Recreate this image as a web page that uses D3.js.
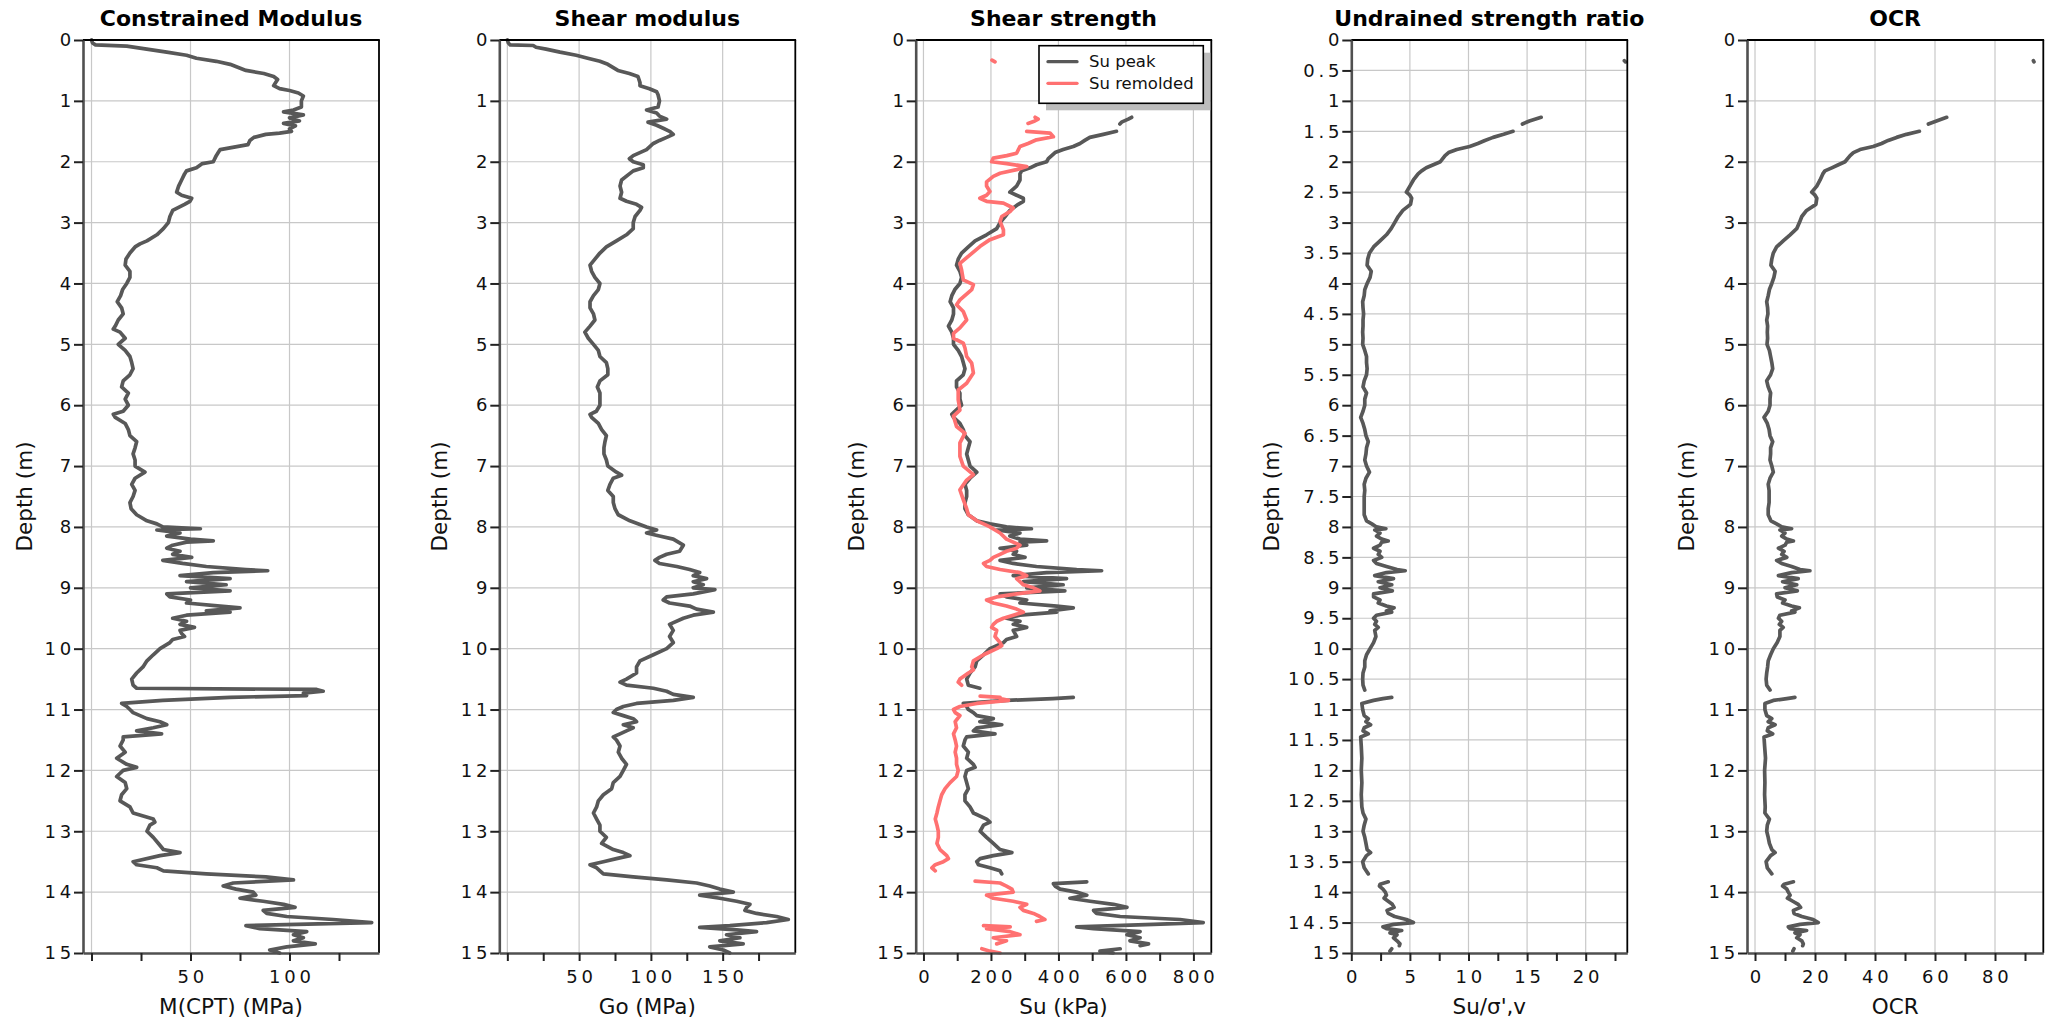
<!DOCTYPE html>
<html>
<head>
<meta charset="utf-8">
<script src="https://cdn.jsdelivr.net/npm/d3@7"></script>
<style>
  html, body { margin: 0; padding: 0; background: #ffffff; }
  svg { display: block; font-family: "DejaVu Sans", Verdana, sans-serif; }
  .title { font-weight: bold; font-size: 22px; fill: #000; }
  .alabel { font-size: 21.5px; fill: #111; }
  .tick text { font-size: 18px; letter-spacing: 3.8px; fill: #111; font-family: "DejaVu Sans", Verdana, sans-serif; }
  .legend text { font-size: 16.5px; fill: #111; }
</style>
</head>
<body>
<script>
// ---------------- DATA (depth [m], value) ; null = gap ----------------
const constrainedM = [[0,0],[0.05,0.5],[0.08,2],[0.1,17.8],[0.15,27.9],[0.2,38],[0.25,48],[0.3,53],[0.35,63],[0.4,70],[0.5,78],[0.55,87],[0.6,92],[0.65,94],[0.7,93],[0.75,92],[0.8,95],[0.83,100],[0.87,104.5],[0.92,107],[1.0,106],[1.1,106],[1.15,102],[1.18,97],[1.23,107],[1.28,100],[1.33,105],[1.37,97],[1.41,103],[1.46,100],[1.5,101],[1.53,95],[1.55,88],[1.6,82],[1.65,80],[1.72,79],[1.76,72],[1.8,65],[1.85,64],[1.9,63],[2.0,61.5],[2.03,56],[2.1,53],[2.15,48],[2.2,47],[2.3,45.5],[2.4,44],[2.5,43],[2.55,45.5],[2.6,50.6],[2.65,49.7],[2.7,47],[2.8,41],[2.9,39.6],[3.0,38.8],[3.1,36.3],[3.2,33],[3.3,28],[3.35,24.5],[3.4,22],[3.5,19.4],[3.6,17.4],[3.7,17],[3.8,19.4],[3.9,19.4],[4.0,17.8],[4.1,15.7],[4.2,14.7],[4.3,13],[4.4,15.2],[4.5,16],[4.6,13.5],[4.7,12],[4.75,11],[4.8,14.4],[4.9,17],[5.0,13.5],[5.1,17],[5.2,19.4],[5.3,20.3],[5.4,21],[5.5,19.4],[5.6,16],[5.7,15.2],[5.8,18.6],[5.9,17],[6.0,18.6],[6.1,16],[6.15,11],[6.2,12],[6.3,17],[6.4,18.6],[6.5,19.4],[6.6,22.8],[6.7,22],[6.8,21],[6.9,22],[7.0,22],[7.1,27],[7.2,22],[7.3,20.3],[7.4,22],[7.5,21],[7.6,19.4],[7.7,20],[7.8,22.8],[7.9,28],[7.95,33],[8.0,36],[8.03,55],[8.05,33],[8.1,44.7],[8.15,38],[8.2,50],[8.23,61.5],[8.25,48],[8.3,41],[8.35,38],[8.4,44.7],[8.45,41],[8.5,50.6],[8.55,36],[8.6,46],[8.65,58],[8.7,78],[8.72,89],[8.75,61.5],[8.8,44.7],[8.85,70],[8.9,48],[8.95,68],[9.0,50],[9.05,70],[9.1,38],[9.15,39.6],[9.2,50],[9.25,48],[9.3,65],[9.33,75],[9.38,58],[9.4,70],[9.45,48],[9.5,41],[9.55,48],[9.6,44.7],[9.65,52],[9.7,44.7],[9.75,45.5],[9.8,47],[9.85,41],[9.9,39.6],[10.0,34.6],[10.1,31.2],[10.2,28],[10.3,26],[10.4,22.8],[10.5,20.3],[10.6,21],[10.65,22.8],[10.67,113.7],[10.7,117],[10.73,107],[10.77,108.6],[10.8,70],[10.85,36],[10.9,15.2],[10.95,17.8],[11.0,19.4],[11.05,21],[11.1,24.5],[11.15,28],[11.2,34.6],[11.25,38],[11.3,31.2],[11.35,22.8],[11.4,35.4],[11.45,16],[11.5,16],[11.6,14.4],[11.7,17],[11.8,12.7],[11.9,17.8],[11.95,22.8],[12.0,16],[12.1,12.7],[12.2,17],[12.3,17.8],[12.4,15.2],[12.5,14.4],[12.6,19.4],[12.7,21],[12.8,31.2],[12.85,32],[12.9,29.5],[13.0,28],[13.1,31.2],[13.2,33.8],[13.3,36.3],[13.35,44.7],[13.4,34.6],[13.5,21],[13.55,22.8],[13.6,33],[13.65,36.3],[13.7,58],[13.75,88],[13.8,102],[13.85,71.6],[13.9,66.5],[13.95,73],[14.0,81.7],[14.05,83],[14.1,75],[14.15,86.7],[14.2,97],[14.25,102.8],[14.3,86.7],[14.35,88.5],[14.4,98.6],[14.45,122],[14.5,141.5],[14.55,78],[14.6,85],[14.65,108.7],[14.7,102],[14.75,107],[14.8,102],[14.85,113],[14.9,98.6],[14.95,90],[15.0,95]];

const shearGo = [[0,0],[0.05,0.7],[0.08,2],[0.09,18],[0.12,20],[0.15,27],[0.2,36.7],[0.25,48],[0.3,56],[0.35,64.5],[0.4,70],[0.5,77],[0.55,85],[0.6,91],[0.7,92.4],[0.75,92.4],[0.8,99],[0.85,104],[0.9,105],[1.0,106],[1.1,105],[1.15,97],[1.2,104],[1.25,106],[1.3,111],[1.35,98],[1.4,104],[1.45,108.6],[1.5,113],[1.55,115.6],[1.6,111],[1.65,106],[1.7,101.7],[1.8,97],[1.9,87.7],[1.95,85],[2.0,87.7],[2.05,94.7],[2.1,94.7],[2.15,87.7],[2.2,85],[2.3,79.6],[2.4,78.5],[2.5,79.6],[2.6,78.5],[2.65,83],[2.7,90],[2.75,93.5],[2.8,92.4],[2.9,89],[3.0,87.7],[3.1,87.7],[3.2,83],[3.3,76],[3.4,69],[3.5,64.5],[3.6,61],[3.7,57.6],[3.8,58.7],[3.9,61],[4.0,64.5],[4.1,63.4],[4.2,60],[4.3,57.6],[4.4,57.6],[4.5,60],[4.6,61],[4.7,57.6],[4.8,54],[4.9,56.4],[5.0,60],[5.1,63.4],[5.2,64.5],[5.3,69],[5.4,70],[5.5,70],[5.6,64.5],[5.7,62.7],[5.8,64.5],[5.9,64.5],[6.0,64.5],[6.1,62],[6.15,57.6],[6.2,58.7],[6.3,63.4],[6.4,65.7],[6.5,69],[6.6,68],[6.7,67.3],[6.8,67.3],[6.9,69],[7.0,70],[7.1,76],[7.15,79.6],[7.2,73.8],[7.3,71.5],[7.4,70],[7.5,73.8],[7.6,73.8],[7.7,75],[7.8,77.3],[7.9,85.4],[8.0,97],[8.05,104],[8.1,97],[8.15,106],[8.2,115.6],[8.3,122.6],[8.4,120],[8.45,111],[8.5,106],[8.55,102.8],[8.6,106],[8.65,118],[8.7,127],[8.75,134],[8.8,129.5],[8.85,138.8],[8.9,129.5],[8.95,136.5],[9.0,129.5],[9.03,144.6],[9.1,129.5],[9.15,111],[9.2,108.6],[9.25,113],[9.3,127],[9.35,131.8],[9.4,143.5],[9.45,129.5],[9.5,122.6],[9.6,113],[9.7,115.6],[9.8,113],[9.9,115.6],[10.0,111],[10.1,101.7],[10.2,92.4],[10.3,90],[10.4,90],[10.5,83],[10.55,78.5],[10.6,83],[10.65,101.7],[10.7,111],[10.75,115.6],[10.8,129.5],[10.85,115.6],[10.9,90],[10.95,80.8],[11.0,76],[11.05,73.8],[11.1,80.8],[11.15,87.7],[11.2,90],[11.25,80.8],[11.3,87.7],[11.35,83],[11.4,78.5],[11.45,73.8],[11.5,76],[11.6,78.5],[11.7,77.3],[11.8,79.6],[11.9,83],[12.0,80.8],[12.1,78.5],[12.2,73.8],[12.3,72.7],[12.4,66.9],[12.5,63.4],[12.6,62.2],[12.7,60],[12.8,62.2],[12.9,64.5],[13.0,64.5],[13.1,69],[13.2,65.7],[13.3,73.8],[13.35,80.8],[13.4,85.4],[13.45,76],[13.5,66.9],[13.55,57.6],[13.6,62.2],[13.65,64.5],[13.7,66.9],[13.75,87.7],[13.8,111],[13.85,131.8],[13.9,141],[13.95,148],[14.0,157.4],[14.05,134],[14.1,148],[14.15,159.7],[14.2,169],[14.25,166.7],[14.3,165.5],[14.35,173.6],[14.4,187.6],[14.45,195.7],[14.5,180.6],[14.55,155],[14.58,134],[14.62,159.7],[14.65,173.6],[14.7,152.7],[14.75,162],[14.8,148],[14.85,164.3],[14.9,141],[14.95,150.4],[15.0,155]];

const suPeak = [[1.27,617],[1.3,607],[1.35,587],[1.38,582],null,[1.5,572],[1.55,533],[1.6,493],[1.65,478],[1.7,464],[1.75,444],[1.8,414],[1.85,390],[1.9,380],[1.95,370],[2.0,365],[2.05,335],[2.1,316],[2.15,291],[2.2,286],[2.3,286],[2.4,276],[2.5,256],[2.55,276],[2.6,296],[2.65,296],[2.7,281],[2.8,256],[2.9,242],[3.0,227],[3.1,217],[3.2,187],[3.3,153],[3.4,133],[3.5,113],[3.6,103],[3.7,98],[3.8,108],[3.9,113],[4.0,108],[4.1,93],[4.2,84],[4.3,79],[4.4,89],[4.5,89],[4.6,84],[4.7,74],[4.8,84],[4.9,89],[5.0,89],[5.1,103],[5.2,113],[5.3,118],[5.4,123],[5.5,118],[5.6,98],[5.7,98],[5.8,108],[5.9,108],[6.0,113],[6.1,93],[6.15,84],[6.2,89],[6.3,108],[6.4,118],[6.5,123],[6.6,138],[6.7,133],[6.8,128],[6.9,133],[7.0,138],[7.1,158],[7.2,138],[7.3,123],[7.4,128],[7.5,128],[7.6,123],[7.7,123],[7.8,133],[7.9,158],[7.95,197],[8.0,246],[8.03,320],[8.05,217],[8.1,286],[8.15,256],[8.2,286],[8.23,365],[8.25,286],[8.3,306],[8.35,227],[8.4,276],[8.45,266],[8.5,301],[8.55,227],[8.6,266],[8.65,335],[8.7,454],[8.72,528],[8.75,365],[8.8,266],[8.85,424],[8.9,296],[8.95,414],[9.0,306],[9.05,419],[9.1,227],[9.15,246],[9.2,306],[9.25,286],[9.3,395],[9.33,444],[9.38,375],[9.4,395],[9.45,286],[9.5,246],[9.55,286],[9.6,266],[9.65,306],[9.7,266],[9.75,271],[9.8,276],[9.85,246],[9.9,237],[10.0,197],[10.1,178],[10.2,158],[10.3,153],[10.4,138],[10.5,128],[10.6,133],[10.65,167],null,[10.8,444],[10.82,384],[10.85,246],[10.9,118],[10.95,128],[11.0,133],[11.05,148],[11.1,158],[11.15,207],[11.2,167],[11.25,232],[11.3,158],[11.35,148],[11.4,212],[11.45,128],[11.5,123],[11.6,118],[11.7,133],[11.8,128],[11.9,148],[11.95,153],[12.0,128],[12.1,123],[12.2,128],[12.3,133],[12.4,123],[12.5,123],[12.6,138],[12.7,148],[12.8,187],[12.85,197],[12.9,178],[13.0,168],[13.1,187],[13.2,207],[13.3,227],[13.35,262],[13.4,207],[13.45,168],[13.5,158],[13.55,163],[13.6,197],[13.65,227],[13.7,232],null,[13.83,484],[13.86,385],[13.9,390],[13.95,405],[14.0,454],[14.05,484],[14.1,434],[14.15,494],[14.2,563],[14.25,603],[14.3,504],[14.35,513],[14.4,583],[14.45,760],[14.5,829],[14.53,681],[14.57,454],[14.6,504],[14.65,642],[14.7,603],[14.75,642],[14.8,612],[14.85,667],[14.88,642],null,[14.93,583],[14.97,523],[15.0,562]];

const suRemolded = [[0.33,203],[0.36,212],null,[1.27,331],[1.3,340],[1.33,330],[1.37,310],null,[1.5,306],[1.53,375],[1.59,385],[1.64,335],[1.7,310],[1.75,286],[1.86,276],[1.9,247],[1.94,207],[2.0,202],[2.03,247],[2.08,306],[2.13,276],[2.19,227],[2.24,207],[2.33,187],[2.4,187],[2.49,197],[2.55,187],[2.6,167],[2.65,187],[2.68,237],[2.76,266],[2.82,256],[2.9,232],[2.98,227],[3.12,237],[3.2,237],[3.28,197],[3.39,168],[3.53,138],[3.67,108],[3.78,113],[3.94,118],[4.02,148],[4.1,143],[4.27,108],[4.35,98],[4.46,118],[4.6,128],[4.73,108],[4.82,89],[4.9,89],[4.98,118],[5.06,123],[5.2,128],[5.31,143],[5.47,148],[5.64,128],[5.75,103],[5.91,103],[6.08,108],[6.18,89],[6.35,98],[6.46,123],[6.62,108],[6.84,108],[7.0,118],[7.14,148],[7.23,128],[7.39,108],[7.55,118],[7.7,128],[7.8,133],[7.9,158],[7.95,178],[8.0,197],[8.1,227],[8.2,246],[8.3,286],[8.35,276],[8.4,246],[8.45,227],[8.5,207],[8.55,197],[8.6,178],[8.65,187],[8.7,227],[8.75,286],[8.8,306],[8.85,276],[8.9,286],[8.95,296],[9.0,326],[9.05,345],[9.1,276],[9.15,217],[9.2,187],[9.25,207],[9.3,246],[9.35,276],[9.4,296],[9.45,266],[9.5,237],[9.55,217],[9.6,207],[9.65,202],[9.7,217],[9.8,212],[9.9,227],[9.95,232],[10.0,217],[10.05,197],[10.1,178],[10.2,148],[10.3,143],[10.35,148],[10.4,133],[10.5,108],[10.55,103],[10.6,113],null,[10.78,168],[10.8,227],[10.82,227],[10.85,252],[10.9,158],[10.95,108],[11.0,89],[11.05,94],[11.1,108],[11.2,94],[11.3,98],[11.4,89],[11.5,94],[11.6,98],[11.7,94],[11.8,98],[11.9,98],[12.0,103],[12.1,98],[12.2,79],[12.3,64],[12.4,54],[12.5,49],[12.6,44],[12.7,40],[12.8,35],[12.9,40],[13.0,44],[13.1,44],[13.2,40],[13.3,49],[13.4,69],[13.45,74],[13.5,59],[13.55,35],[13.6,25],[13.65,35],null,[13.82,153],[13.85,227],[13.9,246],[13.95,262],[14.0,266],[14.05,187],[14.1,207],[14.15,266],[14.2,306],[14.25,286],[14.3,296],[14.35,326],[14.4,345],[14.45,360],[14.48,335],null,[14.55,178],[14.57,257],[14.6,187],[14.65,257],[14.7,286],[14.75,207],[14.8,246],[14.85,217],null,[14.93,173],[14.97,197],[15.0,227]];

const suRatio = [[0.34,23.3],[0.36,23.4],null,[1.27,16.2],[1.33,15.2],[1.38,14.6],null,[1.5,13.8],[1.55,13.0],[1.6,12.1],[1.65,11.4],[1.7,10.8],[1.75,10.1],[1.8,9.0],[1.85,8.3],[1.9,8.0],[2.0,7.6],[2.05,7.0],[2.1,6.4],[2.15,6.0],[2.2,5.7],[2.3,5.3],[2.4,5.0],[2.5,4.7],[2.55,5.0],[2.6,5.15],[2.7,5.05],[2.8,4.4],[2.9,4.0],[3.0,3.7],[3.1,3.4],[3.2,3.0],[3.3,2.45],[3.4,1.9],[3.5,1.55],[3.6,1.4],[3.7,1.35],[3.8,1.7],[3.9,1.6],[4.0,1.35],[4.1,1.15],[4.2,1.1],[4.3,0.97],[4.4,1.0],[4.5,1.05],[4.6,1.0],[4.7,1.0],[4.8,0.97],[4.9,1.0],[5.0,0.97],[5.1,1.15],[5.2,1.3],[5.3,1.3],[5.4,1.35],[5.5,1.3],[5.6,1.1],[5.7,1.0],[5.8,1.3],[5.9,1.15],[6.0,1.15],[6.1,1.0],[6.2,0.8],[6.3,1.0],[6.4,1.15],[6.5,1.25],[6.6,1.45],[6.7,1.3],[6.8,1.25],[6.9,1.15],[7.0,1.3],[7.1,1.55],[7.2,1.25],[7.3,1.1],[7.4,1.15],[7.5,1.1],[7.6,1.1],[7.7,1.1],[7.8,1.1],[7.9,1.3],[7.95,1.75],[8.0,2.15],[8.03,2.95],[8.05,2.0],[8.1,2.45],[8.15,2.15],[8.2,2.6],[8.23,3.15],[8.25,2.6],[8.3,2.45],[8.35,1.9],[8.4,2.45],[8.45,2.3],[8.5,2.6],[8.55,1.9],[8.6,2.15],[8.65,3.0],[8.7,3.9],[8.72,4.6],[8.75,3.0],[8.8,2.0],[8.85,3.6],[8.9,2.3],[8.95,3.45],[9.0,2.45],[9.05,3.5],[9.1,1.9],[9.15,1.9],[9.2,2.45],[9.25,2.3],[9.3,3.0],[9.33,3.65],[9.38,3.0],[9.4,3.45],[9.45,2.15],[9.5,1.9],[9.55,2.15],[9.6,2.0],[9.65,2.3],[9.7,2.0],[9.8,2.1],[9.9,1.9],[10.0,1.6],[10.1,1.3],[10.2,1.15],[10.3,1.15],[10.4,1.0],[10.5,0.97],[10.6,1.0],[10.68,1.15],null,[10.8,3.45],[10.82,2.7],[10.85,1.9],[10.9,0.9],[11.0,0.97],[11.1,1.1],[11.15,1.45],[11.2,1.25],[11.25,1.65],[11.3,1.1],[11.35,1.0],[11.4,1.45],[11.45,0.8],[11.6,0.85],[11.8,0.9],[12.0,0.85],[12.2,0.9],[12.4,0.85],[12.6,0.9],[12.7,1.0],[12.8,1.25],[12.9,1.1],[13.0,1.0],[13.1,1.15],[13.2,1.25],[13.3,1.35],[13.35,1.65],[13.4,1.3],[13.5,0.97],[13.6,1.1],[13.7,1.45],null,[13.83,3.15],[13.87,2.45],[13.9,2.4],[13.95,2.7],[14.0,2.9],[14.05,3.0],[14.1,2.8],[14.15,3.15],[14.2,3.5],[14.25,3.65],[14.3,3.05],[14.35,3.15],[14.4,3.7],[14.45,4.7],[14.5,5.3],[14.53,3.6],[14.57,2.7],[14.6,3.0],[14.63,4.3],[14.67,3.3],[14.7,3.9],[14.75,3.6],[14.8,3.9],[14.85,4.15],[14.88,4.1],null,[14.93,3.45],[14.97,3.3]];

const ocr = [[0.34,92.8],[0.36,93],null,[1.27,63.9],[1.33,60.5],[1.38,57.8],null,[1.5,54.8],[1.55,50.5],[1.6,47.2],[1.65,44.4],[1.7,42.2],[1.75,39.4],[1.8,35],[1.85,32.8],[1.9,31.7],[2.0,30],[2.05,27.8],[2.1,25.6],[2.15,23.3],[2.2,22.6],[2.3,21.7],[2.4,20.6],[2.5,18.9],[2.55,20],[2.6,20.6],[2.7,20.3],[2.8,17.2],[2.9,15.6],[3.0,14.8],[3.1,13.9],[3.2,11.7],[3.3,9.4],[3.4,7.2],[3.5,6.1],[3.6,5.6],[3.7,5.3],[3.8,6.7],[3.9,6.3],[4.0,5.6],[4.1,4.8],[4.2,4.4],[4.3,3.9],[4.4,4.2],[4.5,4.3],[4.6,3.9],[4.7,4.2],[4.8,4.1],[4.9,4.2],[5.0,4.0],[5.1,4.8],[5.2,5.2],[5.3,5.6],[5.4,5.9],[5.5,5.2],[5.6,3.9],[5.7,4.4],[5.8,5.2],[5.9,5.0],[6.0,5.0],[6.1,4.4],[6.2,3.0],[6.3,4.1],[6.4,4.7],[6.5,5.0],[6.6,5.9],[6.7,5.2],[6.8,5.2],[6.9,5.0],[7.0,5.6],[7.1,6.1],[7.2,5.0],[7.3,4.4],[7.4,4.7],[7.5,4.7],[7.6,4.7],[7.7,4.4],[7.8,4.4],[7.9,5.3],[7.95,7.2],[8.0,8.9],[8.03,12.2],[8.05,8.3],[8.1,10],[8.15,8.9],[8.2,10.6],[8.23,12.8],[8.25,10.6],[8.3,10],[8.35,7.8],[8.4,9.7],[8.45,8.9],[8.5,10.6],[8.55,7.2],[8.6,8.9],[8.65,12.2],[8.7,15],[8.72,18.3],[8.75,12.2],[8.8,7.8],[8.85,14.4],[8.9,9.2],[8.95,13.9],[9.0,10],[9.05,14.1],[9.1,7.2],[9.15,7.4],[9.2,10],[9.25,9.2],[9.3,12.2],[9.33,14.8],[9.38,12.2],[9.4,13.3],[9.45,8.3],[9.5,7.8],[9.55,8.9],[9.6,8.1],[9.65,9.4],[9.7,8.3],[9.8,8.3],[9.9,7.4],[10.0,6.1],[10.1,5.2],[10.2,4.4],[10.3,4.2],[10.4,3.9],[10.5,3.7],[10.6,3.9],[10.68,5.0],null,[10.8,13.3],[10.82,10.6],[10.85,6.1],[10.9,3.3],[11.0,3.3],[11.1,3.9],[11.15,5.6],[11.2,4.4],[11.25,6.7],[11.3,4.4],[11.35,4.1],[11.4,5.9],[11.45,3.0],[11.6,3.2],[11.8,3.5],[12.0,3.2],[12.2,3.3],[12.4,3.2],[12.6,3.4],[12.7,3.3],[12.8,4.8],[12.9,4.1],[13.0,3.9],[13.1,4.4],[13.2,4.8],[13.3,5.6],[13.35,6.7],[13.4,5.2],[13.5,3.7],[13.6,4.1],[13.7,5.6],null,[13.83,12.8],[13.87,9.7],[13.9,9.2],[13.95,10.6],[14.0,11.1],[14.05,11.7],[14.1,10.8],[14.15,12.6],[14.2,14.4],[14.25,15.2],[14.3,12.8],[14.35,13],[14.4,15.6],[14.45,19.4],[14.5,21.1],[14.53,15],[14.57,11.1],[14.6,11.7],[14.63,17.2],[14.67,13.3],[14.7,15],[14.75,13.9],[14.8,15.6],[14.85,16.1],[14.88,15.9],null,[14.93,13],[14.97,12.6]];

// ---------------- Titles / ticks ----------------
const titles = ["Constrained Modulus", "Shear modulus", "Shear strength", "Undrained strength ratio", "OCR"];
const xLabels = ["M(CPT) (MPa)", "Go (MPa)", "Su (kPa)", "Su/σ',v", "OCR"];
const xMajor = [[0, 50, 100], [0, 50, 100, 150], [0, 200, 400, 600, 800], [0, 5, 10, 15, 20], [0, 20, 40, 60, 80]];
const xMajorLabels = [["", "50", "100"], ["", "50", "100", "150"], ["0", "200", "400", "600", "800"], ["0", "5", "10", "15", "20"], ["0", "20", "40", "60", "80"]];
const xMinor = [[25, 75, 125], [25, 75, 125, 175], [100, 300, 500, 700], [2.5, 7.5, 12.5, 17.5, 22.5], [10, 30, 50, 70, 90]];
const xDomains = [[-4.3, 145.2], [-5.6, 200.6], [-23, 853], [0, 23.55], [-2.67, 96.1]];
const depthTicksInt = d3.range(0, 16, 1);
const depthTicksHalf = d3.range(0, 15.01, 0.5);
const legendNames = ["Su peak", "Su remolded"];

// ---------------- Layout ----------------
const W = 2049, H = 1021;
const TOP = 40, BOTTOM = 953;
const panelX = [[83, 379], [499.3, 795.3], [915.7, 1211.3], [1351.3, 1627.3], [1747, 2043.3]];
const ylabelOffset = [58, 59, 59, 79, 60];
const GREY = "#585858", RED = "#ff7171";

const svg = d3.select("body").append("svg").attr("width", W).attr("height", H);
svg.append("rect").attr("width", W).attr("height", H).attr("fill", "#fff");

const panelSeries = [
  [{data: constrainedM, color: GREY}],
  [{data: shearGo, color: GREY}],
  [{data: suPeak, color: GREY}, {data: suRemolded, color: RED}],
  [{data: suRatio, color: GREY}],
  [{data: ocr, color: GREY}]
];

panelSeries.forEach((series, i) => {
  const [x0, x1] = panelX[i];
  const x = d3.scaleLinear().domain(xDomains[i]).range([x0, x1]);
  const y = d3.scaleLinear().domain([0, 15]).range([TOP, BOTTOM]);
  const yTicks = i === 3 ? depthTicksHalf : depthTicksInt;
  const g = svg.append("g");

  // gridlines
  const grid = g.append("g").attr("stroke", "#c8c8c8").attr("stroke-width", 1.2);
  yTicks.filter(t => t > 0 && t < 15).forEach(t => {
    grid.append("line").attr("x1", x0).attr("x2", x1).attr("y1", y(t)).attr("y2", y(t));
  });
  xMajor[i].forEach(t => {
    if (x(t) > x0 + 1) grid.append("line").attr("x1", x(t)).attr("x2", x(t)).attr("y1", TOP).attr("y2", BOTTOM);
  });

  // clip
  const clipId = "clip" + i;
  svg.append("clipPath").attr("id", clipId).append("rect")
    .attr("x", x0).attr("y", TOP - 2).attr("width", x1 - x0).attr("height", BOTTOM - TOP + 4);

  // lines
  const line = d3.line().defined(d => d !== null).x(d => x(d[1])).y(d => y(d[0]));
  series.forEach(s => {
    g.append("path").attr("clip-path", `url(#${clipId})`)
      .attr("d", line(s.data)).attr("fill", "none")
      .attr("stroke", s.color).attr("stroke-width", 3.7)
      .attr("stroke-linejoin", "round").attr("stroke-linecap", "round");
  });

  // top & right frame
  g.append("line").attr("x1", x0).attr("x2", x1 + 0.8).attr("y1", TOP).attr("y2", TOP).attr("stroke", "#000").attr("stroke-width", 1.8);
  g.append("line").attr("x1", x1).attr("x2", x1).attr("y1", TOP).attr("y2", BOTTOM).attr("stroke", "#000").attr("stroke-width", 1.8);

  // y axis
  const yAxis = d3.axisLeft(y).tickValues(yTicks).tickSize(9).tickSizeOuter(0).tickPadding(-1)
    .tickFormat(d => (d % 1 === 0 ? d3.format("d")(d) : d3.format(".1f")(d)));
  const ya = g.append("g").attr("transform", `translate(${x0},0)`).call(yAxis);
  ya.select(".domain").attr("stroke", "#505050").attr("stroke-width", 2.6);
  ya.selectAll(".tick line").attr("stroke", "#222").attr("stroke-width", 2);

  // x axis
  const allX = xMajor[i].concat(xMinor[i]);
  const labelMap = new Map(xMajor[i].map((v, k) => [v, xMajorLabels[i][k]]));
  const xAxis = d3.axisBottom(x).tickValues(allX).tickSize(8).tickSizeOuter(0).tickPadding(9)
    .tickFormat(d => labelMap.has(d) ? labelMap.get(d) : "");
  const xa = g.append("g").attr("transform", `translate(0,${BOTTOM})`).call(xAxis);
  xa.select(".domain").attr("stroke", "#505050").attr("stroke-width", 2.6);
  xa.selectAll(".tick line").attr("stroke", "#222").attr("stroke-width", 2);
  xa.selectAll(".tick text").attr("dx", "0.1em");

  // title
  g.append("text").attr("class", "title").attr("x", (x0 + x1) / 2).attr("y", 26)
    .attr("text-anchor", "middle").text(titles[i]);
  // x label
  g.append("text").attr("class", "alabel").attr("x", (x0 + x1) / 2).attr("y", 1014)
    .attr("text-anchor", "middle").text(xLabels[i]);
  // y label
  g.append("text").attr("class", "alabel")
    .attr("transform", `translate(${x0 - ylabelOffset[i]},${(TOP + BOTTOM) / 2}) rotate(-90)`)
    .attr("text-anchor", "middle").attr("dy", "0.32em").text("Depth (m)");

  // legend (shear strength panel)
  if (series.length > 1) {
    const lg = g.append("g").attr("class", "legend");
    const lx = 1039, ly = 45.7, lw = 164.3, lh = 57.6;
    lg.append("rect").attr("x", lx + 7).attr("y", ly + 7).attr("width", lw).attr("height", lh).attr("fill", "#bdbdbd");
    lg.append("rect").attr("x", lx).attr("y", ly).attr("width", lw).attr("height", lh)
      .attr("fill", "#fff").attr("stroke", "#000").attr("stroke-width", 1.6);
    series.forEach((s, k) => {
      const yy = ly + 16 + k * 21.6;
      lg.append("line").attr("x1", lx + 9).attr("x2", lx + 38).attr("y1", yy).attr("y2", yy)
        .attr("stroke", s.color).attr("stroke-width", 3.3).attr("stroke-linecap", "round");
      lg.append("text").attr("x", lx + 50).attr("y", yy).attr("dy", "0.35em").text(legendNames[k]);
    });
  }
});
</script>
</body>
</html>
